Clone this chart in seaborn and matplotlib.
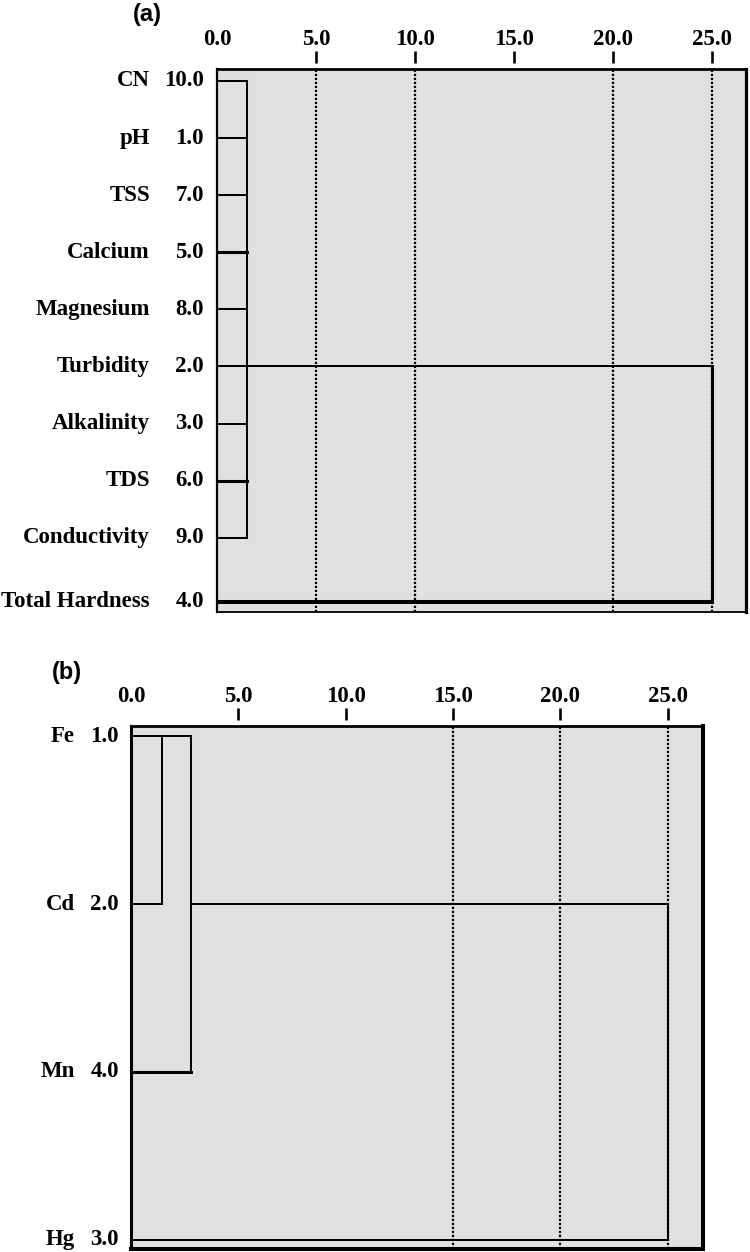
import numpy as np
import pandas as pd
import matplotlib
matplotlib.use("Agg")
import matplotlib.pyplot as plt
import seaborn as sns

# ---------------- data ----------------
params_a = ["CN", "pH", "TSS", "Calcium", "Magnesium", "Turbidity",
            "Alkalinity", "TDS", "Conductivity", "Total Hardness"]
ids_a = [10.0, 1.0, 7.0, 5.0, 8.0, 2.0, 3.0, 6.0, 9.0, 4.0]
merge_a = [1.5, 25.0]          # rescaled distance of the two fusions

params_b = ["Fe", "Cd", "Mn", "Hg"]
ids_b = [1.0, 2.0, 4.0, 3.0]
merge_b = [1.45, 2.8, 25.0]    # rescaled distance of the three fusions

ticks = [0.0, 5.0, 10.0, 15.0, 20.0, 25.0]
ref_a = [5.0, 10.0, 20.0, 25.0]
ref_b = [15.0, 20.0, 25.0]

# ---------------- style ----------------
sns.set_style("white")
plt.rcParams["font.family"] = ["Liberation Serif", "DejaVu Serif"]
plt.rcParams["text.color"] = "black"
plt.rcParams["xtick.color"] = "black"
plt.rcParams["xtick.labelcolor"] = "black"
BG = "#e0e0e0"
LW = 1.45
LW_T = 2.2
LW_TT = 2.9
FS = 16.5

fig = plt.figure(figsize=(7.5, 12.52), dpi=100)
W, H = 750, 1252
ax_a = fig.add_axes([217 / W, 1 - 612 / H, (746 - 217) / W, (612 - 69) / H])
ax_b = fig.add_axes([131 / W, 1 - 1249 / H, (703 - 131) / W, (1249 - 726) / H])


def draw_segments(ax, segs):
    rows = []
    for k, (x0, y0, x1, y1, lw) in enumerate(segs):
        rows.append(dict(x=x0, y=y0, seg=k, lw=lw))
        rows.append(dict(x=x1, y=y1, seg=k, lw=lw))
    df = pd.DataFrame(rows)
    for lw, sub in df.groupby("lw"):
        sns.lineplot(data=sub, x="x", y="y", units="seg", estimator=None,
                     sort=False, color="black", linewidth=lw, ax=ax,
                     legend=False, zorder=4, solid_capstyle="projecting")


def style_axes(ax, xlim, ylim, refs, spine_w):
    ax.set_facecolor(BG)
    for v in refs:
        ax.axvline(v, color="black", lw=1.6, ls=(0, (1, 0.8)), zorder=2)
    ax.set_xlim(*xlim)
    ax.set_ylim(*ylim)
    ax.set_xlabel("")
    ax.set_ylabel("")
    ax.xaxis.tick_top()
    ax.set_xticks(ticks)
    ax.set_xticklabels([f"{t:.1f}" for t in ticks])
    ax.tick_params(axis="x", which="major", top=True, bottom=False,
                   labeltop=True, labelbottom=False,
                   direction="out", length=9, width=1.9, pad=0,
                   color="black", labelsize=FS, labelcolor="black")
    ax.tick_params(axis="y", left=False, right=False, labelleft=False)
    ax.spines["top"].set_position(("outward", 4.5))
    ax.spines["top"].set_visible(False)
    ax.axhline(ylim[1], color="black", lw=spine_w["top"], clip_on=False,
               zorder=5)
    for side in ("left", "right", "bottom"):
        ax.spines[side].set_visible(True)
        ax.spines[side].set_color("black")
        ax.spines[side].set_linewidth(spine_w[side])
        ax.spines[side].set_zorder(6)
    for k, t in enumerate(ax.xaxis.get_major_ticks()):
        t.label2.set_fontweight("bold")
        t.label2.set_fontsize(FS)
        if k == 0:
            t.tick2line.set_visible(False)


# ---------------- panel (a) ----------------
rows_a = np.arange(len(params_a), dtype=float)
rows_a[-1] += 0.12
h1, h2 = merge_a
join_a = 5
segs_a = []
for i in range(len(params_a) - 1):
    segs_a.append((0, rows_a[i], h1, rows_a[i], LW_T if i in (3, 7) else LW))
segs_a.append((h1, rows_a[0], h1, rows_a[-2], LW))
segs_a.append((h1, rows_a[join_a], h2, rows_a[join_a], LW))
segs_a.append((h2, rows_a[join_a], h2, rows_a[-1], LW_T))
segs_a.append((0, rows_a[-1], h2, rows_a[-1], LW_TT))
draw_segments(ax_a, segs_a)
style_axes(ax_a, (0, 26.7), (9.30, -0.21), ref_a,
           {"top": 2.0, "left": 1.6, "right": 2.3, "bottom": 1.3})

tr = ax_a.get_yaxis_transform()
for name, num, r in zip(params_a, ids_a, rows_a):
    ax_a.text(-0.0246, r, f"{num:.1f}", transform=tr, ha="right",
              va="center", fontsize=FS, fontweight="bold")
    ax_a.text(-0.1267, r, name, transform=tr, ha="right", va="center",
              fontsize=FS, fontweight="bold")

# ---------------- panel (b) ----------------
rows_b = np.arange(len(params_b), dtype=float)
g1, g2, g3 = merge_b
segs_b = [
    (0, rows_b[0], g2, rows_b[0], LW),
    (0, rows_b[1], g1, rows_b[1], LW),
    (g1, rows_b[0], g1, rows_b[1], LW),
    (g2, rows_b[0], g2, rows_b[2], LW),
    (0, rows_b[2], g2, rows_b[2], LW_T),
    (g2, rows_b[1], g3, rows_b[1], LW),
    (g3, rows_b[1], g3, rows_b[3], LW),
    (0, rows_b[3], g3, rows_b[3], LW),
]
draw_segments(ax_b, segs_b)
style_axes(ax_b, (0, 26.65), (3.054, -0.06), ref_b,
           {"top": 2.0, "left": 2.2, "right": 2.9, "bottom": 2.9})

tr = ax_b.get_yaxis_transform()
for name, num, r in zip(params_b, ids_b, rows_b):
    ax_b.text(-0.021, r, f"{num:.1f}", transform=tr, ha="right",
              va="center", fontsize=FS, fontweight="bold")
    ax_b.text(-0.098, r, name, transform=tr, ha="right", va="center",
              fontsize=FS, fontweight="bold")

# ---------------- panel letters ----------------
fig.text(133 / W, 1 - 14 / H, "(a)", ha="left", va="center", fontsize=17,
         fontweight="bold", family=["Liberation Sans", "DejaVu Sans"])
fig.text(52 / W, 1 - 673 / H, "(b)", ha="left", va="center", fontsize=17,
         fontweight="bold", family=["Liberation Sans", "DejaVu Sans"])

fig.savefig("out.png", dpi=100)
